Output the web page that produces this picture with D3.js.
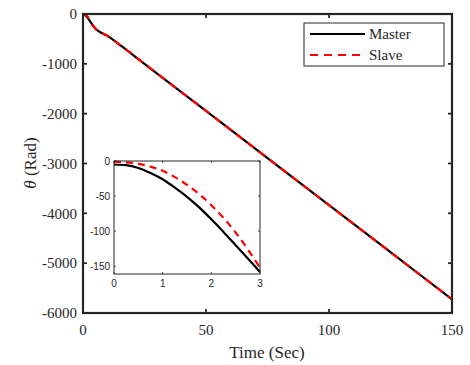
<!DOCTYPE html>
<html>
<head>
<meta charset="utf-8">
<script src="https://cdn.jsdelivr.net/npm/d3@7"></script>
<style>
  body { margin: 0; background: #fff; }
  svg text { fill: #262626; }
</style>
</head>
<body>
<svg id="chart" width="470" height="365"></svg>
<script>
// main plot data (time in sec, angle in rad)
const timeMain = [0, 1, 2, 3, 4, 5, 6, 7, 8, 9, 10, 11, 12, 15, 20, 30, 50, 75, 100, 125, 150];
const masterMain = [0, -26, -83, -158, -230, -290, -335, -365, -390, -415, -440, -475, -510, -620, -810, -1190, -1945, -2890, -3835, -4780, -5725];
const slaveMain = [0, -14, -63, -152, -228, -290, -335, -365, -390, -415, -440, -475, -510, -620, -810, -1190, -1945, -2890, -3835, -4780, -5725];

// inset (zoom of first 3 seconds)
const timeInset = [0, 0.25, 0.5, 0.75, 1, 1.25, 1.5, 1.75, 2, 2.25, 2.5, 2.75, 3];
const masterInset = [-5, -6, -10, -17, -26, -38, -51, -66, -83, -101, -120, -139, -158];
const slaveInset = [-1, -2, -4, -8, -14, -23, -34, -47, -63, -81, -102, -126, -152];

const xTicks = [0, 50, 100, 150];
const yTicks = [0, -1000, -2000, -3000, -4000, -5000, -6000];
const xTicksInset = [0, 1, 2, 3];
const yTicksInset = [0, -50, -100, -150];

const svg = d3.select("#chart");
const serif = "'Liberation Serif', 'Times New Roman', serif";
const sans = "'Liberation Sans', Arial, sans-serif";

// ---- main axes ----
const x = d3.scaleLinear().domain([0, 150]).range([83, 452]);
const y = d3.scaleLinear().domain([-6000, 0]).range([313, 14]);

const line = d3.line().x(d => x(d[0])).y(d => y(d[1])).curve(d3.curveMonotoneX);

svg.append("path")
  .attr("d", line(d3.zip(timeMain, masterMain)))
  .attr("fill", "none").attr("stroke", "#000").attr("stroke-width", 2.2);
svg.append("path")
  .attr("d", line(d3.zip(timeMain, slaveMain)))
  .attr("fill", "none").attr("stroke", "#ff0000").attr("stroke-width", 2.2)
  .attr("stroke-dasharray", "8,6");

// box with inward ticks on all sides
function drawBox(g, xs, ys, xt, yt, len, font, size, fmtX, fmtY, sw, xOff, yOff) {
  const [x0, x1] = xs.range(), [y0, y1] = ys.range();
  g.append("rect").attr("x", x0).attr("y", y1).attr("width", x1 - x0).attr("height", y0 - y1)
    .attr("fill", "none").attr("stroke", "#262626").attr("stroke-width", sw);
  xt.forEach(t => {
    g.append("line").attr("x1", xs(t)).attr("x2", xs(t)).attr("y1", y0).attr("y2", y0 - len)
      .attr("stroke", "#262626").attr("stroke-width", sw * 0.8);
    g.append("line").attr("x1", xs(t)).attr("x2", xs(t)).attr("y1", y1).attr("y2", y1 + len)
      .attr("stroke", "#262626").attr("stroke-width", sw * 0.8);
    g.append("text").attr("x", xs(t)).attr("y", y0 + xOff).attr("text-anchor", "middle")
      .style("font-family", font).style("font-size", size + "px").text(fmtX(t));
  });
  yt.forEach(t => {
    g.append("line").attr("x1", x0).attr("x2", x0 + len).attr("y1", ys(t)).attr("y2", ys(t))
      .attr("stroke", "#262626").attr("stroke-width", sw * 0.8);
    g.append("line").attr("x1", x1).attr("x2", x1 - len).attr("y1", ys(t)).attr("y2", ys(t))
      .attr("stroke", "#262626").attr("stroke-width", sw * 0.8);
    g.append("text").attr("x", x0 - yOff).attr("y", ys(t)).attr("dy", "0.35em").attr("text-anchor", "end")
      .style("font-family", font).style("font-size", size + "px").text(fmtY(t));
  });
}

drawBox(svg, x, y, xTicks, yTicks, 4, serif, 15, d => d, d => d, 2.2, 22, 6);

// axis labels
svg.append("text").attr("x", 267).attr("y", 358).attr("text-anchor", "middle")
  .style("font-family", serif).style("font-size", "17px").text("Time (Sec)");
const yl = svg.append("text").attr("transform", "translate(36,163) rotate(-90)")
  .attr("text-anchor", "middle").style("font-family", serif).style("font-size", "17px");
yl.append("tspan").style("font-style", "italic").text("θ");
yl.append("tspan").text(" (Rad)");

// legend
const lg = svg.append("g");
lg.append("rect").attr("x", 304).attr("y", 23).attr("width", 140).attr("height", 43)
  .attr("fill", "#fff").attr("stroke", "#262626").attr("stroke-width", 1);
lg.append("line").attr("x1", 310).attr("x2", 365).attr("y1", 34).attr("y2", 34)
  .attr("stroke", "#000").attr("stroke-width", 2.2);
lg.append("line").attr("x1", 310).attr("x2", 365).attr("y1", 55).attr("y2", 55)
  .attr("stroke", "#ff0000").attr("stroke-width", 2.2).attr("stroke-dasharray", "8,6");
lg.append("text").attr("x", 369).attr("y", 39).style("font-family", serif).style("font-size", "15px").text("Master");
lg.append("text").attr("x", 369).attr("y", 60).style("font-family", serif).style("font-size", "15px").text("Slave");

// ---- inset ----
const xi = d3.scaleLinear().domain([0, 3]).range([114, 260]);
const yi = d3.scaleLinear().domain([-161, 0]).range([274, 161]);
const ins = svg.append("g");
ins.append("rect").attr("x", 114).attr("y", 161).attr("width", 146).attr("height", 113).attr("fill", "#fff");
const lineI = d3.line().x(d => xi(d[0])).y(d => yi(d[1])).curve(d3.curveMonotoneX);
ins.append("path")
  .attr("d", lineI(d3.zip(timeInset, masterInset)))
  .attr("fill", "none").attr("stroke", "#000").attr("stroke-width", 2.2);
ins.append("path")
  .attr("d", lineI(d3.zip(timeInset, slaveInset)))
  .attr("fill", "none").attr("stroke", "#ff0000").attr("stroke-width", 2.2)
  .attr("stroke-dasharray", "7,5");
drawBox(ins, xi, yi, xTicksInset, yTicksInset, 2, sans, 10, d => d, d => d, 1, 13, 4);
</script>
</body>
</html>
